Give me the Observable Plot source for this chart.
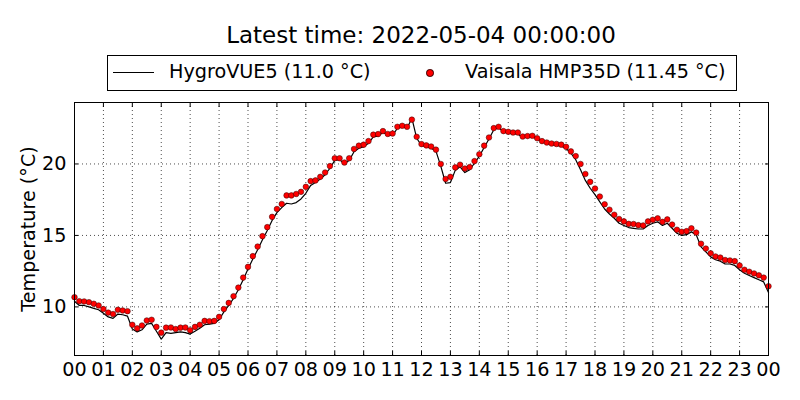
<!DOCTYPE html>
<html><head><meta charset="utf-8">
<script src="https://cdn.jsdelivr.net/npm/d3@7"></script>
<script src="https://cdn.jsdelivr.net/npm/@observablehq/plot@0.6"></script>
<style>
body{margin:0;background:#fff;font-family:"DejaVu Sans",sans-serif;}
#wrap{position:relative;width:800px;height:400px;overflow:hidden;}
#title{position:absolute;left:74px;width:694px;top:23.5px;text-align:center;font-size:23px;line-height:1;white-space:nowrap;}
#legend{position:absolute;left:107px;top:55px;width:628px;height:34px;border:1px solid #000;background:#fff;}
#legend .txt{position:absolute;top:4px;font-size:19.2px;line-height:23px;white-space:nowrap;}
#legend .ln{position:absolute;left:5px;top:16px;width:41px;height:0;border-top:1.2px solid #000;}
#legend .dt{position:absolute;left:318px;top:13px;width:5.5px;height:5.5px;border-radius:50%;background:#f00;border:0.5px solid #300;}
#chart{position:absolute;left:0;top:95px;}
</style></head>
<body><div id="wrap">
<div id="title"></div>
<div id="legend"><span class="ln"></span><span class="txt" id="l1" style="left:61px"></span><span class="dt"></span><span class="txt" id="l2" style="left:357px"></span></div>
<div id="chart"></div>
</div>
<script>
const titleText = "Latest time: 2022-05-04 00:00:00";
const seriesNames = ["HygroVUE5 (11.0 °C)", "Vaisala HMP35D (11.45 °C)"];
const yLabel = "Temperature (°C)";
const hourTicks = [0,1,2,3,4,5,6,7,8,9,10,11,12,13,14,15,16,17,18,19,20,21,22,23,24];
const hourLabels = ["00","01","02","03","04","05","06","07","08","09","10","11","12","13","14","15","16","17","18","19","20","21","22","23","00"];
const tempTicks = [10, 15, 20];
const stepsPerHour = 6; // 10-minute samples

// Vaisala HMP35D (dots), 10-minute samples from 00:00 to 24:00
const vaisala = [
 10.68,10.40,10.38,10.33,10.22,10.10,
 9.85,9.60,9.50,9.80,9.75,9.70,
 8.75,8.50,8.70,9.05,9.10,8.60,
 8.20,8.55,8.56,8.45,8.55,8.56,
 8.37,8.60,8.75,9.02,9.00,9.02,
 9.30,9.85,10.28,10.75,11.35,12.05,
 12.80,13.55,14.22,14.95,15.58,16.30,
 16.85,17.20,17.80,17.80,17.90,18.05,
 18.40,18.80,18.85,19.10,19.40,19.85,
 20.40,20.40,20.10,20.40,21.05,21.28,
 21.35,21.60,22.05,22.09,22.30,22.10,
 22.13,22.60,22.67,22.60,23.10,21.90,
 21.39,21.30,21.22,21.00,20.00,18.95,
 19.10,19.76,19.95,19.68,19.78,20.20,
 20.68,21.28,21.85,22.51,22.60,22.30,
 22.25,22.20,22.20,21.92,21.95,21.97,
 21.80,21.60,21.50,21.43,21.40,21.35,
 21.20,20.88,20.55,20.00,19.30,18.75,
 18.28,17.72,17.18,16.80,16.45,16.15,
 15.98,15.81,15.80,15.72,15.70,15.98,
 16.10,16.20,15.95,16.12,15.76,15.40,
 15.26,15.30,15.50,15.20,14.42,14.08,
 13.75,13.53,13.45,13.28,13.25,13.20,
 12.90,12.60,12.46,12.34,12.21,12.05,
 11.45
];
// HygroVUE5 (line)
const hygro = [
 10.40,10.10,10.10,10.00,9.90,9.80,
 9.55,9.30,9.20,9.50,9.45,9.35,
 8.45,8.25,8.40,8.80,8.85,8.30,
 7.75,8.20,8.15,8.20,8.25,8.20,
 8.10,8.30,8.50,8.75,8.80,8.85,
 9.10,9.65,10.10,10.60,11.20,11.90,
 12.65,13.35,14.00,14.70,15.35,16.05,
 16.60,16.95,17.25,17.20,17.30,17.55,
 17.95,18.50,18.70,18.95,19.25,19.70,
 20.25,20.30,20.00,20.25,20.85,21.10,
 21.20,21.45,21.90,21.95,22.20,22.05,
 22.00,22.50,22.60,22.50,23.20,21.80,
 21.30,21.20,21.10,20.90,19.85,18.65,
 18.70,19.55,19.80,19.40,19.60,20.05,
 20.55,21.15,21.75,22.40,22.55,22.25,
 22.15,22.10,22.10,21.85,21.90,21.90,
 21.75,21.55,21.45,21.35,21.30,21.25,
 21.10,20.75,20.30,19.60,18.85,18.30,
 17.85,17.35,16.85,16.50,16.20,15.85,
 15.70,15.55,15.50,15.45,15.45,15.70,
 15.85,15.95,15.70,15.85,15.50,15.15,
 15.00,15.05,15.25,15.05,14.20,13.85,
 13.50,13.30,13.20,13.00,13.00,12.90,
 12.60,12.35,12.20,12.05,11.90,11.75,
 11.00
];

document.getElementById("title").textContent = titleText;
document.getElementById("l1").textContent = seriesNames[0];
document.getElementById("l2").textContent = seriesNames[1];

const dotData = vaisala.map((v, i) => ({h: i / stepsPerHour, t: v}));
const lineData = hygro.map((v, i) => ({h: i / stepsPerHour, t: v}));
const fmtHour = d => hourLabels[hourTicks.indexOf(d)];
const noLabel = () => "";
const font = '"DejaVu Sans", sans-serif';

const chart = Plot.plot({
  width: 800,
  height: 305,
  marginLeft: 74,
  marginRight: 32,
  marginTop: 7,
  marginBottom: 45,
  style: {fontFamily: font, fontSize: "19.2px", color: "#000", background: "transparent", overflow: "visible"},
  x: {domain: [0, 24], ticks: hourTicks},
  y: {domain: [6.6, 24.3], ticks: tempTicks},
  marks: [
    Plot.gridX(hourTicks, {stroke: "#000", strokeOpacity: 1, strokeWidth: 0.7, strokeDasharray: "1,3"}),
    Plot.gridY(tempTicks, {stroke: "#000", strokeOpacity: 1, strokeWidth: 0.7, strokeDasharray: "1,3"}),
    Plot.line(lineData, {x: "h", y: "t", stroke: "#000", strokeWidth: 1.2}),
    Plot.dot(dotData, {x: "h", y: "t", r: 2.8, fill: "#f00", stroke: "#300", strokeWidth: 0.5}),
    Plot.axisX(hourTicks, {anchor: "bottom", tickSize: -4, tickPadding: 10.5, tickFormat: fmtHour, label: null, fontSize: "19.2px"}),
    Plot.axisX(hourTicks, {anchor: "top", tickSize: -4, tickFormat: noLabel, label: null}),
    Plot.axisY(tempTicks, {anchor: "left", tickSize: -4, tickPadding: 12, label: yLabel, labelAnchor: "center", labelArrow: "none", labelOffset: 53, fontSize: "19.2px"}),
    Plot.axisY(tempTicks, {anchor: "right", tickSize: -4, tickFormat: noLabel, label: null}),
    Plot.frame({stroke: "#000", strokeWidth: 1})
  ]
});
document.getElementById("chart").appendChild(chart);
</script>
</body></html>
